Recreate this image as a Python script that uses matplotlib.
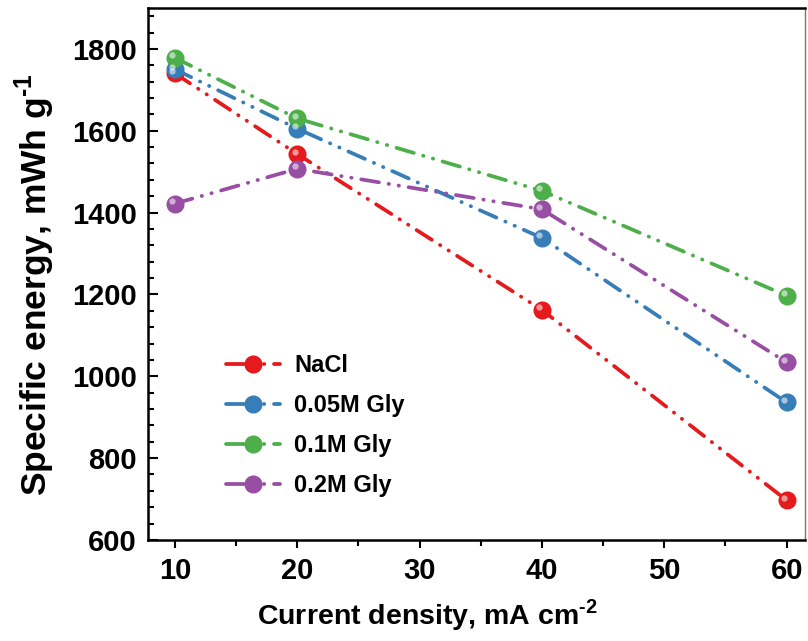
import matplotlib
matplotlib.use('Agg')
import matplotlib.pyplot as plt
from matplotlib.ticker import MultipleLocator
from matplotlib.transforms import offset_copy

current = [10, 20, 40, 60]
nacl = [1740, 1543, 1162, 697]
gly_005 = [1750, 1605, 1338, 936]
gly_01 = [1778, 1630, 1453, 1197]
gly_02 = [1422, 1507, 1408, 1034]

labels = ['NaCl', '0.05M Gly', '0.1M Gly', '0.2M Gly']
colors = ['#e41a1c', '#377eb8', '#4daf4a', '#984ea3']
series = [nacl, gly_005, gly_01, gly_02]

plt.rcParams['font.family'] = ['Liberation Sans', 'DejaVu Sans']
plt.rcParams['font.weight'] = 'bold'
plt.rcParams['mathtext.fontset'] = 'custom'
plt.rcParams['mathtext.rm'] = 'Liberation Sans:bold'
plt.rcParams['mathtext.bf'] = 'Liberation Sans:bold'

fig = plt.figure(figsize=(8.08, 6.41), dpi=100)
ax = fig.add_axes([0.1832, 0.1576, 0.8131, 0.83])

# dash-dot-dot with round caps
dash = (0, (4.8, 2.6, 0.1, 2.6, 0.1, 2.6))
shine = offset_copy(ax.transData, fig=fig, x=-1.8, y=1.8, units='points')

for y, c, lab in zip(series, colors, labels):
    ax.plot(current, y, linestyle=dash, color=c, lw=2.7, dash_capstyle='round',
            marker='o', ms=12, mfc=c, mec=c, label=lab, zorder=3)
    ax.plot(current, y, linestyle='none', marker='o', ms=4.5, mfc='white',
            mec='none', alpha=0.55, transform=shine, zorder=4)

ax.set_xlim(7.8, 61.5)
ax.set_ylim(600, 1900)
ax.xaxis.set_major_locator(MultipleLocator(10))
ax.xaxis.set_minor_locator(MultipleLocator(5))
ax.yaxis.set_minor_locator(MultipleLocator(40))
ax.set_yticks(range(600, 1801, 200))

ax.tick_params(axis='x', which='both', direction='out', labelsize=21, pad=6)
ax.tick_params(axis='x', which='major', length=6, width=1.5)
ax.tick_params(axis='x', which='minor', length=4, width=1.5)
ax.tick_params(axis='y', which='both', direction='in', labelsize=21, pad=8)
ax.tick_params(axis='y', which='major', length=7, width=1.5)
ax.tick_params(axis='y', which='minor', length=4, width=1.5)
for lab in ax.get_xticklabels() + ax.get_yticklabels():
    lab.set_fontweight('bold')

for s in ax.spines.values():
    s.set_linewidth(1.8)
ax.spines['right'].set_color('#777777')
ax.spines['right'].set_linewidth(1.0)

ax.set_xlabel('Current density, mA cm$^{\\text{-2}}$', fontsize=20.5, fontweight='bold')
ax.xaxis.set_label_coords(0.425, -0.108)
ax.set_ylabel('Specific energy, mWh g$^{\\text{-1}}$', fontsize=25.5, fontweight='bold')
ax.yaxis.set_label_coords(-0.138, 0.48)

leg = ax.legend(loc='upper left', bbox_to_anchor=(0.1, 0.372), frameon=False,
                fontsize=17, handlelength=2.3, handletextpad=0.6, labelspacing=0.72,
                borderpad=0)
for t in leg.get_texts():
    t.set_fontweight('bold')

fig.savefig('out.png', dpi=100)
